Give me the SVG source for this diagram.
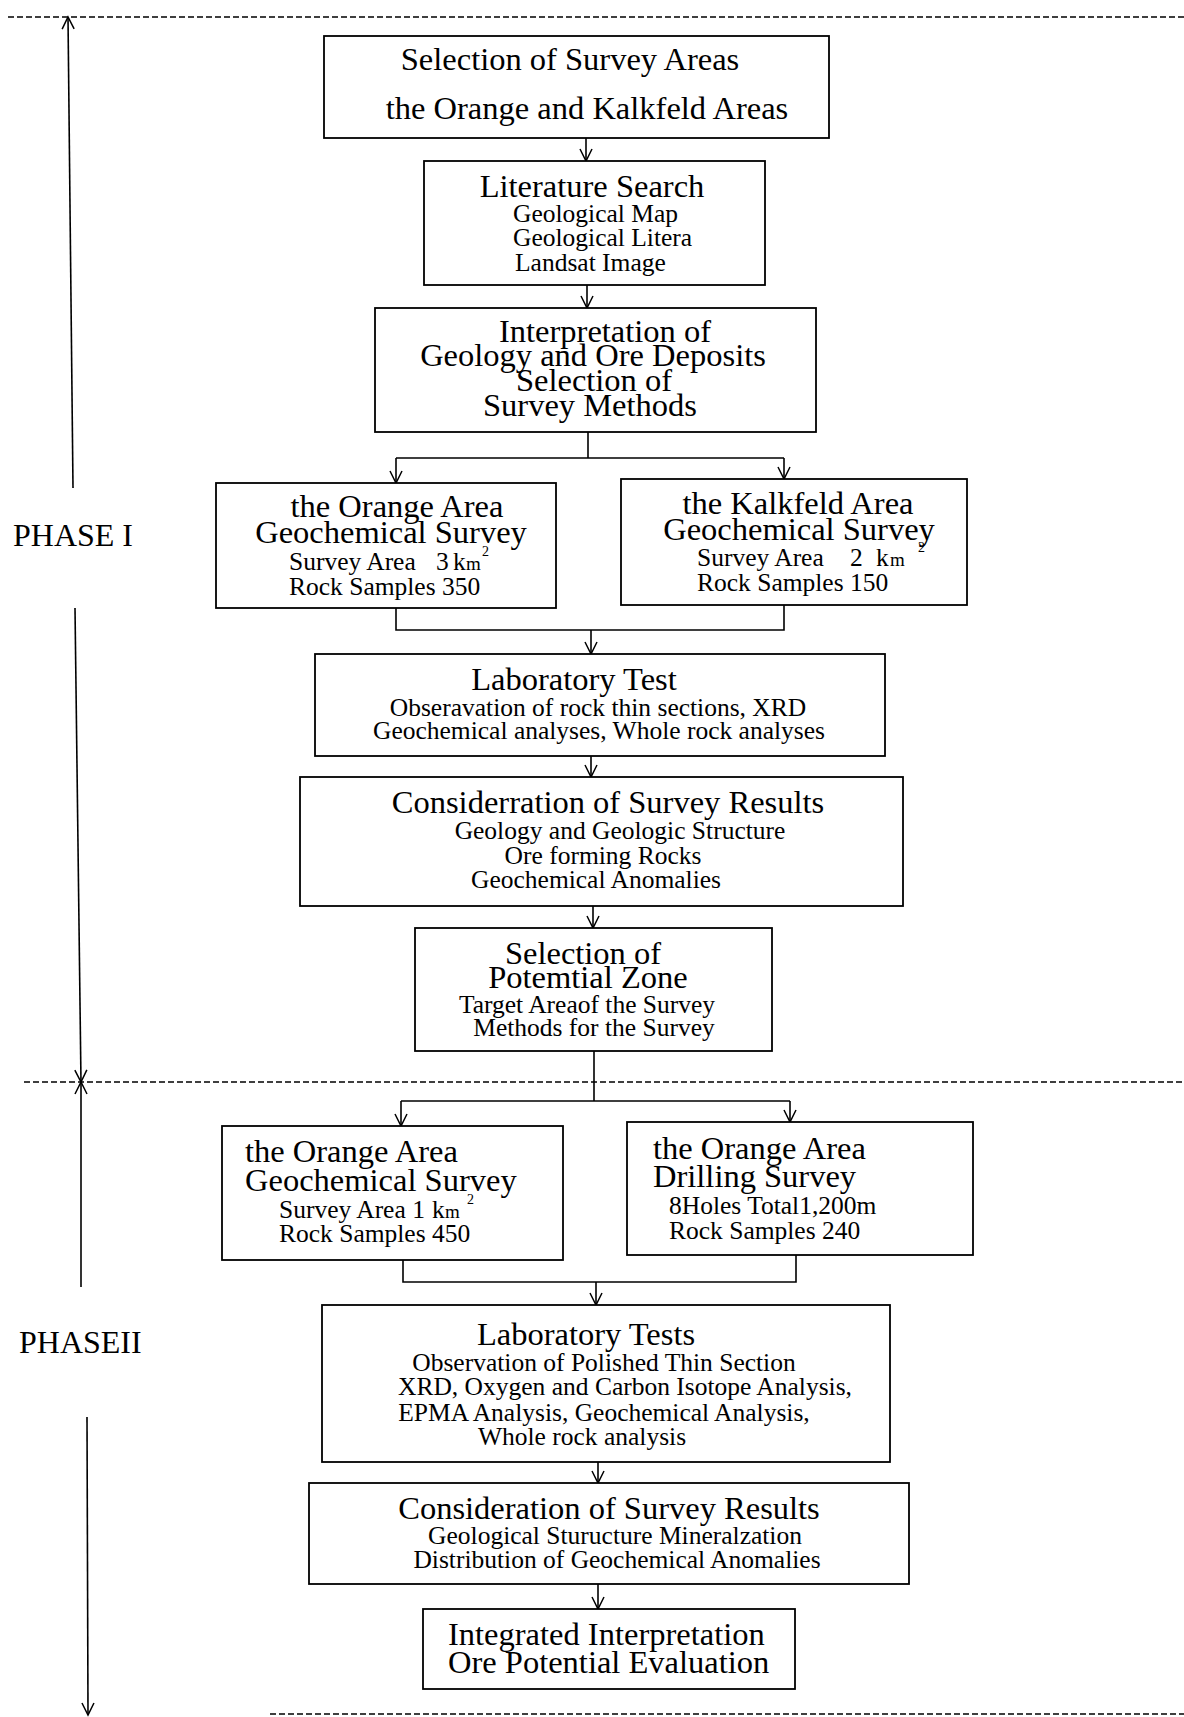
<svg xmlns="http://www.w3.org/2000/svg" width="1184" height="1717" viewBox="0 0 1184 1717">
<style>
.box{fill:#fff;stroke:#000;stroke-width:1.8}
.t{font-family:"Liberation Serif","Times New Roman",serif;fill:#000}
.h{font-size:32.5px}
.s{font-size:25.5px}
.c{text-anchor:middle}
.ln{fill:none;stroke:#000;stroke-width:1.6}
.dash{fill:none;stroke:#000;stroke-width:1.3;stroke-dasharray:6 3}
.ph{font-size:32px}
.sup{font-size:14px}
.sm{font-size:19px}
</style>
<defs>
<marker id="arr" viewBox="-14 -8 16 16" refX="0" refY="0" markerWidth="16" markerHeight="16" markerUnits="userSpaceOnUse" orient="auto">
<path d="M-12,-6 L0,0 L-12,6" fill="none" stroke="#000" stroke-width="1.5"/>
</marker>
</defs>
<rect width="1184" height="1717" fill="#fff"/>

<g id="phase-markers">
<path class="dash" d="M8,17 H1184"/>
<path class="dash" d="M24,1082 H1184"/>
<path class="dash" d="M270,1714 H1184"/>
<path class="ln" d="M73,488 L68,17" marker-end="url(#arr)"/>
<path class="ln" d="M75,608 L81,1082" marker-end="url(#arr)"/>
<path class="ln" d="M81,1287 L81,1082" marker-end="url(#arr)"/>
<path class="ln" d="M87,1417 L88,1715" marker-end="url(#arr)"/>
<text class="t ph" x="13" y="546">PHASE I</text>
<text class="t ph" x="19" y="1353">PHASEII</text>
</g>

<g id="connectors">
<path class="ln" d="M586,138 V161" marker-end="url(#arr)"/>
<path class="ln" d="M587,285 V308" marker-end="url(#arr)"/>
<path class="ln" d="M588,432 V458 M396,458 H784"/>
<path class="ln" d="M396,458 V483" marker-end="url(#arr)"/>
<path class="ln" d="M784,458 V479" marker-end="url(#arr)"/>
<path class="ln" d="M396,608 V630 H784 V605"/>
<path class="ln" d="M591,630 V654" marker-end="url(#arr)"/>
<path class="ln" d="M591,756 V777" marker-end="url(#arr)"/>
<path class="ln" d="M593,906 V928" marker-end="url(#arr)"/>
<path class="ln" d="M594,1051 V1101 M401,1101 H790"/>
<path class="ln" d="M401,1101 V1126" marker-end="url(#arr)"/>
<path class="ln" d="M790,1101 V1122" marker-end="url(#arr)"/>
<path class="ln" d="M403,1260 V1282 H796 V1255"/>
<path class="ln" d="M596,1282 V1305" marker-end="url(#arr)"/>
<path class="ln" d="M598,1462 V1483" marker-end="url(#arr)"/>
<path class="ln" d="M598,1584 V1609" marker-end="url(#arr)"/>
</g>

<g id="n1">
<rect class="box" x="324" y="36" width="505" height="102"/>
<text class="t h c" x="570" y="70">Selection of Survey Areas</text>
<text class="t h c" x="587" y="119">the Orange and Kalkfeld Areas</text>
</g>

<g id="n2">
<rect class="box" x="424" y="161" width="341" height="124"/>
<text class="t h c" x="592" y="197">Literature Search</text>
<text class="t s" x="513" y="222">Geological Map</text>
<text class="t s" x="513" y="246">Geological Litera</text>
<text class="t s" x="515" y="271">Landsat Image</text>
</g>

<g id="n3">
<rect class="box" x="375" y="308" width="441" height="124"/>
<text class="t h c" x="605" y="342">Interpretation of</text>
<text class="t h c" x="593" y="366">Geology and Ore Deposits</text>
<text class="t h c" x="594" y="391">Selection of</text>
<text class="t h c" x="590" y="416">Survey Methods</text>
</g>

<g id="n4a">
<rect class="box" x="216" y="483" width="340" height="125"/>
<text class="t h c" x="397" y="517">the Orange Area</text>
<text class="t h c" x="391" y="543">Geochemical Survey</text>
<text class="t s" x="289" y="570">Survey Area<tspan x="436">3</tspan><tspan x="453">k</tspan><tspan class="sm" x="466">m</tspan><tspan class="sup" x="482" dy="-14">2</tspan></text>
<text class="t s" x="289" y="595">Rock Samples 350</text>
</g>

<g id="n4b">
<rect class="box" x="621" y="479" width="346" height="126"/>
<text class="t h c" x="798" y="514">the Kalkfeld Area</text>
<text class="t h c" x="799" y="540">Geochemical Survey</text>
<text class="t s" x="697" y="566">Survey Area<tspan x="850">2</tspan><tspan x="876">k</tspan><tspan class="sm" x="890">m</tspan><tspan class="sup" x="918" dy="-14">2</tspan></text>
<text class="t s" x="697" y="591">Rock Samples 150</text>
</g>

<g id="n5">
<rect class="box" x="315" y="654" width="570" height="102"/>
<text class="t h c" x="574" y="690">Laboratory Test</text>
<text class="t s c" x="598" y="716">Obseravation of rock thin sections, XRD</text>
<text class="t s c" x="599" y="739">Geochemical analyses, Whole rock analyses</text>
</g>

<g id="n6">
<rect class="box" x="300" y="777" width="603" height="129"/>
<text class="t h c" x="608" y="813">Considerration of Survey Results</text>
<text class="t s c" x="620" y="839">Geology and Geologic Structure</text>
<text class="t s c" x="603" y="864">Ore forming Rocks</text>
<text class="t s c" x="596" y="888">Geochemical Anomalies</text>
</g>

<g id="n7">
<rect class="box" x="415" y="928" width="357" height="123"/>
<text class="t h c" x="583" y="964">Selection of</text>
<text class="t h c" x="588" y="988">Potemtial Zone</text>
<text class="t s c" x="587" y="1013">Target Areaof the Survey</text>
<text class="t s c" x="594" y="1036">Methods for the Survey</text>
</g>

<g id="n8a">
<rect class="box" x="222" y="1126" width="341" height="134"/>
<text class="t h" x="245" y="1162">the Orange Area</text>
<text class="t h" x="245" y="1191">Geochemical Survey</text>
<text class="t s" x="279" y="1218">Survey Area 1<tspan x="432">k</tspan><tspan class="sm" x="445">m</tspan><tspan class="sup" x="467" dy="-14">2</tspan></text>
<text class="t s" x="279" y="1242">Rock Samples 450</text>
</g>

<g id="n8b">
<rect class="box" x="627" y="1122" width="346" height="133"/>
<text class="t h" x="653" y="1159">the Orange Area</text>
<text class="t h" x="653" y="1187">Drilling Survey</text>
<text class="t s" x="669" y="1214">8Holes Total1,200m</text>
<text class="t s" x="669" y="1239">Rock Samples 240</text>
</g>

<g id="n9">
<rect class="box" x="322" y="1305" width="568" height="157"/>
<text class="t h c" x="586" y="1345">Laboratory Tests</text>
<text class="t s c" x="604" y="1371">Observation of Polished Thin Section</text>
<text class="t s c" x="625" y="1395">XRD, Oxygen and Carbon Isotope Analysis,</text>
<text class="t s c" x="604" y="1421">EPMA Analysis, Geochemical Analysis,</text>
<text class="t s c" x="582" y="1445">Whole rock analysis</text>
</g>

<g id="n10">
<rect class="box" x="309" y="1483" width="600" height="101"/>
<text class="t h c" x="609" y="1519">Consideration of Survey Results</text>
<text class="t s c" x="615" y="1544">Geological Sturucture Mineralzation</text>
<text class="t s c" x="617" y="1568">Distribution of Geochemical Anomalies</text>
</g>

<g id="n11">
<rect class="box" x="423" y="1609" width="372" height="80"/>
<text class="t h" x="448" y="1645">Integrated Interpretation</text>
<text class="t h" x="448" y="1673">Ore Potential Evaluation</text>
</g>
</svg>
